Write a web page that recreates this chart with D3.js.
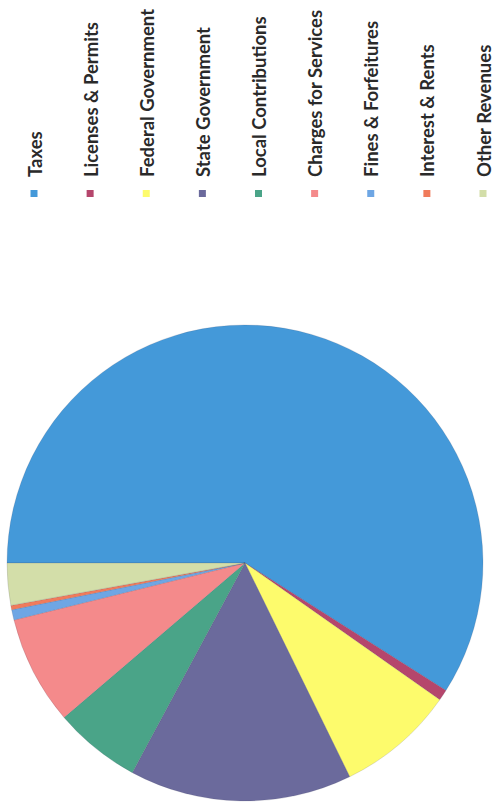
<!DOCTYPE html>
<html><head><meta charset="utf-8">
<script src="https://cdn.jsdelivr.net/npm/d3@7"></script>
<style>html,body{margin:0;padding:0;background:#fff;}svg{display:block;}</style>
</head><body>
<svg id="chart" width="498" height="804"></svg>
<script>
const categories = ["Taxes","Licenses & Permits","Federal Government","State Government","Local Contributions","Charges for Services","Fines & Forfeitures","Interest & Rents","Other Revenues"];
const values = [59.0, 0.75, 8.0, 15.1, 5.9, 7.4, 0.7, 0.3, 2.85];
const colors = ["#4499d9","#b5466c","#fdfb6c","#6b6a9c","#4aa488","#f48a8b","#6ea6e4","#f07b5b","#d3dea9"];

const svg = d3.select("#chart");
const cx = 245, cy = 563, r = 238;

const pie = d3.pie().sort(null).value(d => d)
  .startAngle(-Math.PI/2).endAngle(3*Math.PI/2);
const arc = d3.arc().innerRadius(0).outerRadius(r);
const color = d3.scaleOrdinal().domain(categories).range(colors);

svg.append("g").attr("transform", `translate(${cx},${cy})`)
  .selectAll("path").data(pie(values)).join("path")
  .attr("d", arc)
  .attr("fill", (d,i) => color(categories[i]))
  .attr("stroke", "rgba(60,60,90,0.25)")
  .attr("stroke-width", 0.6);

// legend (rotated)
const lx = d3.scalePoint().domain(categories).range([34, 483]);
const leg = svg.append("g").selectAll("g").data(categories).join("g")
  .attr("transform", d => `translate(${lx(d)},0)`);
leg.append("rect").attr("x", -3.5).attr("y", 190).attr("width", 7).attr("height", 7)
  .attr("fill", d => color(d));
leg.append("text")
  .attr("transform", "translate(7.5,177) rotate(-90)")
  .attr("font-family", "Lato, 'Open Sans', sans-serif")
  .attr("font-weight", 700)
  .attr("font-size", 18.5)
  .attr("fill", "#2a2a2a")
  .text(d => d);
</script>
</body></html>
